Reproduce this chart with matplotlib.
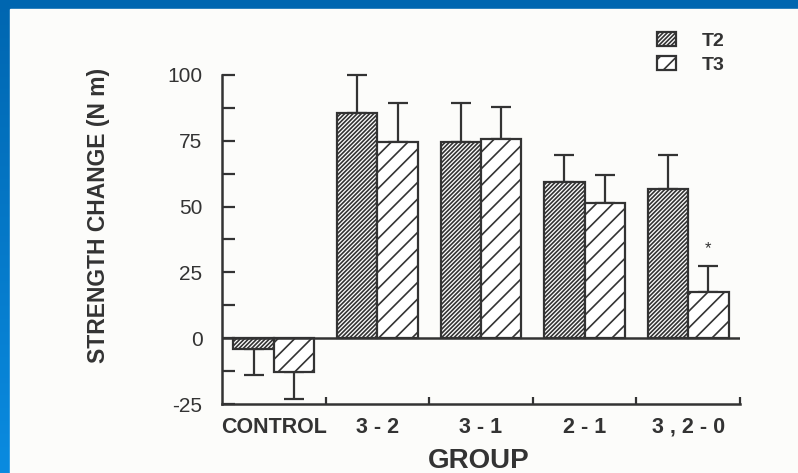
import numpy as np
import matplotlib.pyplot as plt
from matplotlib.patches import Rectangle
from matplotlib.colors import LinearSegmentedColormap

# data
groups = ['CONTROL', '3 - 2', '3 - 1', '2 - 1', '3 , 2 - 0']
t2 = [-4, 85.5, 74.5, 59.5, 56.5]
t3 = [-13, 74.5, 75.5, 51.5, 17.5]
t2_err = [10, 14.5, 15, 10, 13]
t3_err = [10, 15, 12.5, 10.5, 10]
star_group = 4
yticks = [-25, 0, 25, 50, 75, 100]

ink = '#333333'
plt.rcParams['font.family'] = ['Liberation Sans', 'DejaVu Sans']
plt.rcParams['hatch.linewidth'] = 1.2

fig = plt.figure(figsize=(7.98, 4.73), dpi=100)

# blue slide frame + paper
bg = fig.add_axes([0, 0, 1, 1], zorder=-10)
grad = np.linspace(0, 1, 256).reshape(-1, 1)
cmap = LinearSegmentedColormap.from_list('slide', ['#0066b0', '#0a8be0'])
bg.imshow(grad, aspect='auto', cmap=cmap, extent=[0, 1, 0, 1], origin='upper')
bg.add_patch(Rectangle((10 / 798, 0), 1, 1 - 9 / 473, color='#fcfcfa'))
bg.set_xlim(0, 1)
bg.set_ylim(0, 1)
bg.axis('off')

ax = fig.add_axes([222 / 798, 69 / 473, 518 / 798, 329 / 473])
ax.patch.set_alpha(0)

x = np.arange(len(groups))
w = 0.39
b2 = ax.bar(x - w / 2, t2, w, facecolor='white', edgecolor=ink, hatch='////////',
            linewidth=1.6, label='T2', zorder=2)
b3 = ax.bar(x + w / 2, t3, w, facecolor='white', edgecolor=ink, hatch='//',
            linewidth=1.6, label='T3', zorder=2)

# one-sided error bars (away from zero)
for xs, vals, errs in [(x - w / 2, t2, t2_err), (x + w / 2, t3, t3_err)]:
    vals = np.array(vals)
    errs = np.array(errs)
    lower = np.where(vals < 0, errs, 0)
    upper = np.where(vals >= 0, errs, 0)
    ax.errorbar(xs, vals, yerr=[lower, upper], fmt='none', ecolor=ink,
                elinewidth=1.6, capsize=7, capthick=1.6, clip_on=False, zorder=1)

ax.text(star_group + w / 2, t3[star_group] + t3_err[star_group] + 6.5, '*',
        ha='center', va='center', fontsize=12, color=ink)

ax.axhline(0, color=ink, linewidth=1.8, zorder=3)

ax.set_xlim(-0.5, 4.5)
ax.set_ylim(-25, 100)

for s in ['top', 'right']:
    ax.spines[s].set_visible(False)
for s in ['left', 'bottom']:
    ax.spines[s].set_color(ink)
    ax.spines[s].set_linewidth(1.8)

ax.set_yticks(yticks)
ax.set_yticklabels([str(v) for v in yticks])
ax.set_yticks(np.arange(-12.5, 100, 25), minor=True)
ax.tick_params(axis='y', which='both', direction='in', length=9, width=1.6,
               color=ink, labelcolor=ink, labelsize=15, pad=14)

ax.set_xticks(x)
ax.set_xticklabels(groups, fontweight='bold', fontsize=15.5, color=ink)
ax.set_xticks(np.arange(0.5, 4.6, 1), minor=True)
ax.tick_params(axis='x', which='major', length=0, pad=9)
ax.tick_params(axis='x', which='minor', direction='in', length=5, width=1.6, color=ink)

fig.text(99 / 798, 258 / 473, 'STRENGTH CHANGE (N m)', rotation=90, ha='center',
         va='center', fontsize=16.5, fontweight='bold', color=ink)
fig.text(479 / 798, 5 / 473, 'GROUP', ha='center', va='baseline',
         fontsize=20, fontweight='bold', color=ink)

leg = ax.legend(handles=[b2, b3], loc='upper left',
                bbox_to_anchor=(657 / 798, 1 - 32 / 473),
                bbox_transform=fig.transFigure, frameon=False, borderpad=0,
                borderaxespad=0, handlelength=1.0, handleheight=0.75,
                handletextpad=1.3, labelspacing=0.3,
                prop={'weight': 'bold', 'size': 14})
for t in leg.get_texts():
    t.set_color(ink)

fig.savefig('out.png', dpi=100)
